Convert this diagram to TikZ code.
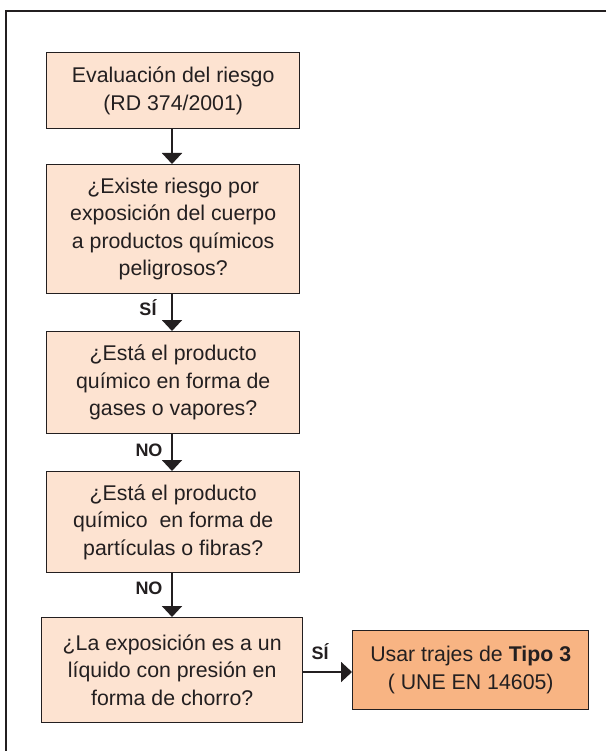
\documentclass[tikz,border=0pt]{standalone}
\usepackage{fontspec}
\setmainfont{Liberation Sans}
\usetikzlibrary{arrows.meta}
\definecolor{ink}{HTML}{231F20}
\definecolor{peach}{HTML}{FDE3D1}
\definecolor{orangebox}{HTML}{F8B483}
\tikzset{
  qbox/.style={draw=ink, line width=1.4pt, fill=peach, align=center, text=ink,
    font=\fontsize{21.3}{27.5}\selectfont, inner sep=0pt, anchor=north west},
  resbox/.style={qbox, fill=orangebox},
  flow/.style={draw=ink, line width=2pt, -{Triangle[width=20pt,length=11pt]}},
  lbl/.style={text=ink, font=\fontsize{18}{20}\bfseries\selectfont, inner sep=0pt}
}
\begin{document}
\begin{tikzpicture}[x=1pt,y=-1pt]
\useasboundingbox (0,0) rectangle (606,751);
\coordinate (ftr) at (606,11);
\coordinate (ftl) at (6,11);
\coordinate (fbl) at (6,751);
\draw[ink, line width=1.2pt] (ftr) -- (ftl) -- (fbl);

\node[qbox, minimum width=253pt, minimum height=76pt] (b1) at (46,52)
  {Evaluación del riesgo\\(RD 374/2001)};
\node[qbox, minimum width=253pt, minimum height=129pt] (b2) at (46,164)
  {¿Existe riesgo por\\exposición del cuerpo\\a productos químicos\\peligrosos?};
\node[qbox, minimum width=253pt, minimum height=102pt] (b3) at (46,331)
  {¿Está el producto\\químico en forma de\\gases o vapores?};
\node[qbox, minimum width=253pt, minimum height=101pt] (b4) at (46,471)
  {¿Está el producto\\químico \ en forma de\\partículas o fibras?};
\node[qbox, minimum width=261pt, minimum height=105pt] (b5) at (41,617)
  {¿La exposición es a un\\líquido con presión en\\forma de chorro?};
\node[resbox, minimum width=236pt, minimum height=79pt] (b6) at (352,630)
  {Usar trajes de \textbf{Tipo 3}\\( UNE EN 14605)};

\draw[flow] (b1.south -| 172,0) -- (b2.north -| 172,0);
\draw[flow] (b2.south -| 172,0) -- (b3.north -| 172,0);
\draw[flow] (b3.south -| 172,0) -- (b4.north -| 172,0);
\draw[flow] (b4.south -| 172,0) -- (b5.north -| 172,0);
\draw[flow] (b5.east |- 0,672) -- (b6.west |- 0,672);

\node[lbl] (l1) at (148,308) {SÍ};
\node[lbl] (l2) at (149,450) {NO};
\node[lbl] (l3) at (149,588) {NO};
\node[lbl] (l4) at (320,652) {SÍ};
\end{tikzpicture}
\end{document}
